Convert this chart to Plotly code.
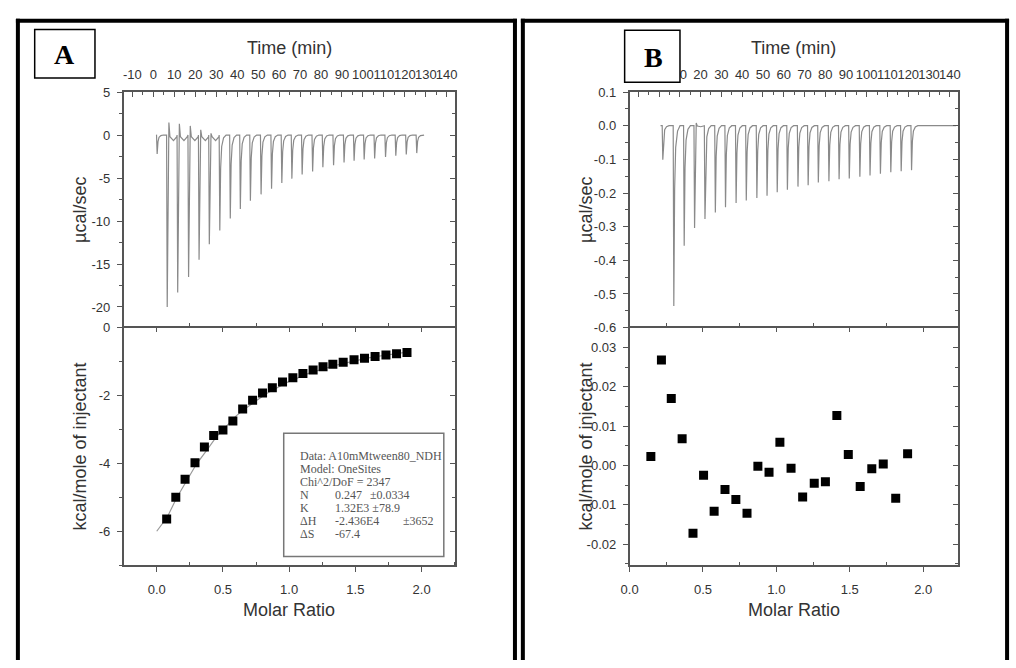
import plotly.graph_objects as go

W, H = 1016, 668

# ------------------------- DATA -------------------------
# Panel A thermogram: injection times (min), peak heights (ucal/sec), overshoot spikes
A_inj_time = [1.8, 6.6, 11.6, 16.8, 21.8, 26.7, 31.7, 36.7, 41.5, 46.3, 51.4, 56.4, 61.3,
              66.1, 71.0, 76.0, 80.9, 86.0, 91.0, 95.8, 100.6, 105.6, 110.8, 115.7, 120.7, 125.7]
A_inj_peak = [-2.2, -20.0, -18.3, -16.5, -14.5, -12.7, -11.1, -9.7, -8.6, -7.65, -6.9, -6.25, -5.57,
              -5.07, -4.6, -4.24, -3.75, -3.5, -3.2, -3.0, -2.85, -2.73, -2.55, -2.4, -2.25, -2.1]
A_inj_over = [0, 1.45, 1.3, 1.06, 0.6, 0.2, 0, 0, 0, 0, 0, 0, 0,
              0, 0, 0, 0, 0, 0, 0, 0, 0, 0, 0, 0, 0]
A_base_span = [1.4, 129.2]

# Panel A binding isotherm
A_ratio = [0.075, 0.144, 0.214, 0.289, 0.360, 0.430, 0.500, 0.575, 0.649, 0.724, 0.799, 0.873, 0.950,
           1.028, 1.104, 1.181, 1.256, 1.330, 1.408, 1.490, 1.569, 1.649, 1.731, 1.811, 1.890]
A_heat = [-5.64, -5.00, -4.47, -3.98, -3.52, -3.18, -3.02, -2.75, -2.40, -2.14, -1.93, -1.77, -1.60,
          -1.48, -1.35, -1.25, -1.15, -1.08, -1.02, -0.95, -0.90, -0.85, -0.81, -0.77, -0.73]
A_fit_ratio = [0.0, 0.08, 0.15, 0.23, 0.30, 0.38, 0.45, 0.53, 0.60, 0.68, 0.76, 0.83, 0.91,
               0.98, 1.06, 1.13, 1.21, 1.28, 1.36, 1.44, 1.51, 1.59, 1.66, 1.74, 1.81, 1.89]
A_fit_heat = [-6.0, -5.58, -5.02, -4.50, -4.02, -3.60, -3.22, -2.89, -2.60, -2.35, -2.13, -1.94, -1.77,
              -1.62, -1.49, -1.37, -1.27, -1.18, -1.10, -1.03, -0.96, -0.90, -0.85, -0.80, -0.76, -0.72]

# Panel B thermogram
B_inj_time = [1.8, 7.1, 12.1, 17.1, 22.1, 27.1, 32.0, 37.1, 42.0, 47.1, 52.0, 56.9, 61.8,
              66.9, 71.8, 76.7, 81.8, 86.7, 91.6, 96.7, 101.6, 106.6, 111.6, 116.6, 121.6]
B_inj_peak = [-0.101, -0.536, -0.357, -0.304, -0.277, -0.258, -0.242, -0.230, -0.222, -0.215, -0.208,
              -0.198, -0.190, -0.181, -0.177, -0.169, -0.165, -0.159, -0.157, -0.152, -0.148,
              -0.143, -0.138, -0.135, -0.132]
B_inj_over = [0, 0, 0, 0.008, 0, 0, 0, 0, 0, 0, 0, 0, 0, 0, 0, 0, 0, 0, 0, 0, 0, 0, 0, 0, 0]
B_base_span = [0.7, 143.0]

# Panel B points
B_ratio = [0.145, 0.217, 0.284, 0.358, 0.432, 0.504, 0.576, 0.650, 0.724, 0.800, 0.874, 0.950,
           1.024, 1.100, 1.179, 1.258, 1.334, 1.412, 1.490, 1.571, 1.650, 1.728, 1.813, 1.894]
B_heat = [0.0023, 0.0268, 0.0170, 0.0068, -0.0172, -0.0025, -0.0116, -0.0061, -0.0086, -0.0121,
          -0.0002, -0.0017, 0.0059, -0.0007, -0.0080, -0.0045, -0.0041, 0.0127, 0.0028, -0.0053,
          -0.0008, 0.0004, -0.0083, 0.0030]

# Tick labels
time_ticks = [-10, 0, 10, 20, 30, 40, 50, 60, 70, 80, 90, 100, 110, 120, 130, 140]
time_text_A = ["-10", "0", "10", "20", "30", "40", "50", "60", "70", "80", "90", "100", "110",
               "120", "130", "140"]
# in panel B the first labels are hidden behind the "B" box
time_text_B = ["", "", "10", "20", "30", "40", "50", "60", "70", "80", "90", "100", "110",
               "120", "130", "140"]
time_minor = [-5, 5, 15, 25, 35, 45, 55, 65, 75, 85, 95, 105, 115, 125, 135]
ratio_ticks = [0.0, 0.5, 1.0, 1.5, 2.0]
ratio_text = ["0.0", "0.5", "1.0", "1.5", "2.0"]
ratio_minor = [-0.25, 0.25, 0.75, 1.25, 1.75, 2.25]
A_top_ticks = [5, 0, -5, -10, -15, -20]
A_top_minor = [2.5, -2.5, -7.5, -12.5, -17.5, -22.5]
A_bot_ticks = [0, -2, -4, -6]
A_bot_minor = [-1, -3, -5, -7]
B_top_ticks = [0.1, 0.0, -0.1, -0.2, -0.3, -0.4, -0.5, -0.6]
B_top_text = ["0.1", "0.0", "-0.1", "-0.2", "-0.3", "-0.4", "-0.5", "-0.6"]
B_top_minor = [0.05, -0.05, -0.15, -0.25, -0.35, -0.45, -0.55]
B_bot_ticks = [0.03, 0.02, 0.01, 0.0, -0.01, -0.02]
B_bot_text = ["0.03", "0.02", "0.01", "0.00", "-0.01", "-0.02"]
B_bot_minor = [0.035, 0.025, 0.015, 0.005, -0.005, -0.015, -0.025]

legend_lines = ["Data: A10mMtween80_NDH", "Model: OneSites", "Chi^2/DoF = 2347"]
legend_params = [("N", "0.247", "±0.0334"), ("K", "1.32E3 ±78.9", ""),
                 ("ΔH", "-2.436E4", "±3652"), ("ΔS", "-67.4", "")]


# ------------------------- helpers -------------------------
def thermogram(times, peaks, overs, span, dip):
    xs, ys = [span[0]], [0.0]
    for t, p, o in zip(times, peaks, overs):
        if o > 0:
            xs += [t - 0.3, t, t + 0.8, t + 1.3, t + 3.0, t + 4.6]
            ys += [0.0, p, o, dip * 0.3, dip, dip * 0.3]
        else:
            xs += [t - 0.3, t, t + 0.4, t + 0.9, t + 1.8, t + 3.0]
            ys += [0.0, p, 0.35 * p, 0.12 * p, 0.03 * p, 0.0]
    xs.append(span[1])
    ys.append(0.0)
    return xs, ys


def px(x):
    return x / W


def py(y):
    return 1 - y / H


AXC = "#555555"
TXT = "#333333"
SANS = "Liberation Sans, Arial, sans-serif"
SERIF = "Liberation Serif, Times New Roman, serif"

A_dom = [px(116), px(451)]
B_dom = [px(628), px(960)]
top_dom = [py(328), py(87)]
bot_dom = [py(571), py(328)]

TIME_RANGE = [-14.2, 143.8]
A_RATIO_RANGE = [-0.25, 2.25]
B_RATIO_RANGE = [0.0, 2.235]
A_TOP_RANGE = [-22.4, 5]
A_BOT_RANGE = [-7, 0]
B_TOP_RANGE = [-0.6, 0.1]
B_BOT_RANGE = [-0.0253, 0.035]

fig = go.Figure()

ax_t, ay_t = thermogram(A_inj_time, A_inj_peak, A_inj_over, A_base_span, -0.65)
fig.add_trace(go.Scatter(x=ax_t, y=ay_t, xaxis="x", yaxis="y", mode="lines",
                         line=dict(color="#8a8a8a", width=1.2), hoverinfo="skip"))
fig.add_trace(go.Scatter(x=A_fit_ratio, y=A_fit_heat, xaxis="x2", yaxis="y2", mode="lines",
                         line=dict(color="#9a9a9a", width=1.2), hoverinfo="skip"))
fig.add_trace(go.Scatter(x=A_ratio, y=A_heat, xaxis="x2", yaxis="y2", mode="markers",
                         marker=dict(symbol="square", size=9, color="black"), hoverinfo="skip"))
bx_t, by_t = thermogram(B_inj_time, B_inj_peak, B_inj_over, B_base_span, -0.003)
fig.add_trace(go.Scatter(x=bx_t, y=by_t, xaxis="x3", yaxis="y3", mode="lines",
                         line=dict(color="#8a8a8a", width=1.2), hoverinfo="skip"))
fig.add_trace(go.Scatter(x=B_ratio, y=B_heat, xaxis="x4", yaxis="y4", mode="markers",
                         marker=dict(symbol="square", size=9, color="black"), hoverinfo="skip"))

# dummy invisible traces to activate overlay axes
for xa, ya, xv, yv in [("x", "y5", 0, 0), ("x2", "y6", 0, -1), ("x3", "y7", 50, 0),
                       ("x4", "y8", 1, 0), ("x5", "y2", 1, -1), ("x6", "y4", 1, 0)]:
    fig.add_trace(go.Scatter(x=[xv], y=[yv], xaxis=xa, yaxis=ya, mode="markers",
                             marker=dict(opacity=0, size=1), hoverinfo="skip"))

base = dict(showgrid=False, zeroline=False, showline=True, linecolor=AXC, linewidth=1.5,
            tickcolor=AXC, tickwidth=1.2, tickfont=dict(family=SANS, size=13, color=TXT),
            fixedrange=True, tickangle=0)


def minor(vals, ticks, ln=3):
    return dict(tickmode="array", tickvals=vals, ticks=ticks, ticklen=ln, tickcolor=AXC, tickwidth=1.1)


layout_axes = {}
# ---- Panel A ----
layout_axes["xaxis"] = dict(base, domain=A_dom, anchor="y", side="top", range=TIME_RANGE,
                            tickmode="array", tickvals=time_ticks, ticktext=time_text_A,
                            ticks="inside", ticklen=5, ticklabelstandoff=6,
                            minor=minor(time_minor, "inside"))
layout_axes["yaxis"] = dict(base, domain=top_dom, anchor="x", range=A_TOP_RANGE,
                            tickmode="array", tickvals=A_top_ticks, ticktext=[str(v) for v in A_top_ticks],
                            ticks="outside", ticklen=5, ticklabelstandoff=4,
                            minor=minor(A_top_minor, "outside"))
layout_axes["yaxis5"] = dict(base, overlaying="y", anchor="x", side="right", range=A_TOP_RANGE,
                             showticklabels=False, tickmode="array", tickvals=A_top_ticks,
                             ticks="inside", ticklen=5, minor=minor(A_top_minor, "inside"))
layout_axes["xaxis2"] = dict(base, domain=A_dom, anchor="y2", range=A_RATIO_RANGE,
                             tickmode="array", tickvals=ratio_ticks, ticktext=ratio_text,
                             ticks="outside", ticklen=5, ticklabelstandoff=6,
                             minor=minor(ratio_minor, "inside"))
layout_axes["xaxis5"] = dict(base, overlaying="x2", anchor="y2", side="top", range=A_RATIO_RANGE,
                             showticklabels=False, tickmode="array", tickvals=ratio_ticks,
                             ticks="inside", ticklen=5, minor=minor(ratio_minor, "outside"))
layout_axes["yaxis2"] = dict(base, domain=bot_dom, anchor="x2", range=A_BOT_RANGE,
                             tickmode="array", tickvals=A_bot_ticks, ticktext=[str(v) for v in A_bot_ticks],
                             ticks="outside", ticklen=5, ticklabelstandoff=4,
                             minor=minor(A_bot_minor, "outside"))
layout_axes["yaxis6"] = dict(base, overlaying="y2", anchor="x2", side="right", range=A_BOT_RANGE,
                             showticklabels=False, tickmode="array", tickvals=A_bot_ticks,
                             ticks="inside", ticklen=5, minor=minor(A_bot_minor, "inside"))
# ---- Panel B ----
layout_axes["xaxis3"] = dict(base, domain=B_dom, anchor="y3", side="top", range=TIME_RANGE,
                             tickmode="array", tickvals=time_ticks, ticktext=time_text_B,
                             ticks="inside", ticklen=5, ticklabelstandoff=6,
                             minor=minor(time_minor, "inside"))
layout_axes["yaxis3"] = dict(base, domain=top_dom, anchor="x3", range=B_TOP_RANGE,
                             tickmode="array", tickvals=B_top_ticks, ticktext=B_top_text,
                             ticks="outside", ticklen=5, ticklabelstandoff=4,
                             minor=minor(B_top_minor, "outside"))
layout_axes["yaxis7"] = dict(base, overlaying="y3", anchor="x3", side="right", range=B_TOP_RANGE,
                             showticklabels=False, tickmode="array", tickvals=B_top_ticks,
                             ticks="inside", ticklen=5, minor=minor(B_top_minor, "inside"))
layout_axes["xaxis4"] = dict(base, domain=B_dom, anchor="y4", range=B_RATIO_RANGE,
                             tickmode="array", tickvals=ratio_ticks, ticktext=ratio_text,
                             ticks="outside", ticklen=5, ticklabelstandoff=6,
                             minor=minor(ratio_minor, "inside"))
layout_axes["xaxis6"] = dict(base, overlaying="x4", anchor="y4", side="top", range=B_RATIO_RANGE,
                             showticklabels=False, tickmode="array", tickvals=ratio_ticks,
                             ticks="inside", ticklen=5, minor=minor(ratio_minor, "outside"))
layout_axes["yaxis4"] = dict(base, domain=bot_dom, anchor="x4", range=B_BOT_RANGE,
                             tickmode="array", tickvals=B_bot_ticks, ticktext=B_bot_text,
                             ticks="outside", ticklen=5, ticklabelstandoff=4,
                             minor=minor(B_bot_minor, "outside"))
layout_axes["yaxis8"] = dict(base, overlaying="y4", anchor="x4", side="right", range=B_BOT_RANGE,
                             showticklabels=False, tickmode="array", tickvals=B_bot_ticks,
                             ticks="inside", ticklen=5, minor=minor(B_bot_minor, "inside"))

# ------------------------- shapes -------------------------
shapes = []


def pline(x0, y0, x1, y1, w=4, c="black"):
    shapes.append(dict(type="line", xref="paper", yref="paper", x0=px(x0), y0=py(y0),
                       x1=px(x1), y1=py(y1), line=dict(color=c, width=w), layer="above"))


# outer panel borders
pline(9, 12, 9, 668)
pline(7, 14, 514, 14)
pline(512, 12, 512, 668)
pline(520, 12, 520, 668)
pline(518, 14, 1012, 14)
pline(1010, 12, 1010, 668)


def prect(x0, y0, x1, y1, lc, lw, fill):
    shapes.append(dict(type="rect", xref="paper", yref="paper", x0=px(x0), y0=py(y0),
                       x1=px(x1), y1=py(y1), line=dict(color=lc, width=lw),
                       fillcolor=fill, layer="above"))


prect(26, 23, 87, 72.7, "black", 1.5, "white")
prect(623, 23.7, 679, 77, "black", 1.5, "white")
prect(278, 436, 440, 562, "#777777", 1.5, "white")

# ------------------------- annotations -------------------------
ann = []


def text(x, y, s, size=18, fam=SANS, color=TXT, angle=0, xanchor="center", bold=False):
    if bold:
        s = "<b>" + s + "</b>"
    ann.append(dict(xref="paper", yref="paper", x=px(x), y=py(y), text=s, showarrow=False,
                    xanchor=xanchor, yanchor="middle", textangle=angle,
                    font=dict(family=fam, size=size, color=color)))


for cx, cy_axis in [(283.5, 72), (794, 584)]:
    text(cx, 42, "Time (min)")
    text(cx, 617, "Molar Ratio")
    text(cy_axis, 207.5, "µcal/sec", angle=-90)
    text(cy_axis, 449.5, "kcal/mole of injectant", angle=-90)

text(56.5, 48.5, "A", size=28, fam=SERIF, color="black", bold=True)
text(652, 51.5, "B", size=28, fam=SERIF, color="black", bold=True)

LEG = "#555555"
row_y = [459, 472.5, 485.5, 499, 512, 525.5, 539]
for i, s in enumerate(legend_lines):
    text(292, row_y[i], s, size=12, fam=SERIF, color=LEG, xanchor="left")
for j, (name, val, err) in enumerate(legend_params):
    yy = row_y[3 + j]
    text(292, yy, name, size=12, fam=SERIF, color=LEG, xanchor="left")
    text(328, yy, val, size=12, fam=SERIF, color=LEG, xanchor="left")
    if err:
        ex = 363 if name == "N" else 397
        text(ex, yy, err, size=12, fam=SERIF, color=LEG, xanchor="left")

fig.update_layout(width=W, height=H, margin=dict(l=0, r=0, t=0, b=0),
                  paper_bgcolor="white", plot_bgcolor="rgba(0,0,0,0)",
                  showlegend=False, shapes=shapes, annotations=ann, **layout_axes)

fig.write_html("out.html", config={"displayModeBar": False})
